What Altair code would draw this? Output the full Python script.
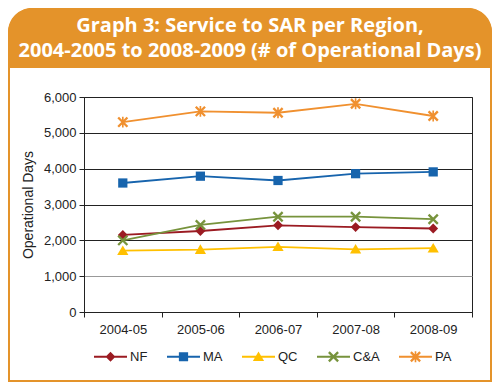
import altair as alt
import pandas as pd

years = ["2004-05", "2005-06", "2006-07", "2007-08", "2008-09"]
series = ["NF", "MA", "QC", "C&A", "PA"]
nf = [2150, 2260, 2420, 2370, 2330]
ma = [3600, 3790, 3670, 3860, 3910]
qc = [1710, 1740, 1820, 1750, 1780]
ca = [2000, 2430, 2660, 2660, 2590]
pa = [5300, 5600, 5560, 5810, 5470]
colors = ["#9b1b22", "#1764ad", "#ffc000", "#77933c", "#f0902f"]
title_lines = ["Graph 3: Service to SAR per Region,",
               "2004-2005 to 2008-2009 (# of Operational Days)"]
y_ticks = [0, 1000, 2000, 3000, 4000, 5000, 6000]

X_PATH = ("M-0.23,-0.33L0.33,0.23L0.23,0.33L-0.33,-0.23Z "
          "M-0.33,0.23L0.23,-0.33L0.33,-0.23L-0.23,0.33Z")
marker_paths = [
    "M0,-0.3L0.3,0L0,0.3L-0.3,0Z",
    "M-0.28,-0.28H0.28V0.28H-0.28Z",
    "M0,-0.32L0.34,0.26H-0.34Z",
    X_PATH,
    X_PATH + " M-0.05,-0.33H0.05V0.33H-0.05Z",
]
BAR = "M-1,-0.06H1V0.06H-1Z "
legend_paths = [BAR + p for p in marker_paths]

rows = []
for name, vals in zip(series, [nf, ma, qc, ca, pa]):
    for yr, v in zip(years, vals):
        rows.append({"year": yr, "series": name, "value": v})
df = pd.DataFrame(rows)

FONT = "Liberation Sans"
ORANGE = "#e4932a"

x_enc = alt.X("year:N", sort=years, bandPosition=0.5,
              scale=alt.Scale(type="band", paddingInner=0, paddingOuter=0),
              axis=alt.Axis(title=None, labelAngle=0, tickBand="extent", tickSize=5,
                            tickColor="#222", domainColor="#222", labelFont=FONT,
                            labelFontSize=13, labelColor="#222", labelPadding=6, grid=False))
y_enc = alt.Y("value:Q", scale=alt.Scale(domain=[0, 6000]),
              axis=alt.Axis(values=y_ticks, format=",.0f", title="Operational Days",
                            titleFont=FONT, titleFontSize=14, titleFontWeight="normal",
                            titleColor="#222", titlePadding=8,
                            labelFont=FONT, labelFontSize=13, labelColor="#222",
                            tickSize=5, tickColor="#222", domainColor="#222", labelPadding=3,
                            gridColor={"condition": {"test": "datum.value === 1000", "value": "#999999"},
                                       "value": "#222222"}))

color_scale = alt.Scale(domain=series, range=colors)
leg = alt.Legend(orient="none", legendX=10, legendY=243, direction="horizontal", title=None,
                 symbolSize=1089, symbolOpacity=1, symbolStrokeWidth=0,
                 symbolStrokeColor="transparent", labelFont=FONT, labelFontSize=13,
                 labelColor="#222", columnPadding=19, labelOffset=3)


def color_enc():
    return alt.Color("series:N", scale=color_scale, sort=series, legend=leg)


lines = alt.Chart(df).mark_line(strokeWidth=1.8).encode(x=x_enc, y=y_enc, color=color_enc())

marker_layers = []
for name, path in zip(series, marker_paths):
    marker_layers.append(
        alt.Chart(df).transform_filter(alt.datum.series == name)
        .mark_point(filled=True, size=1089, opacity=1, shape=path)
        .encode(x=x_enc, y=y_enc, color=color_enc())
    )

# legend-only layer: its marks sit outside the canvas, only its legend shows
legend_layer = alt.Chart(df).mark_point(filled=True, size=1089, opacity=1).encode(
    x=alt.value(-3000), y=alt.value(-3000),
    color=color_enc(),
    shape=alt.Shape("series:N", scale=alt.Scale(domain=series, range=legend_paths),
                    sort=series, legend=leg),
)

one = pd.DataFrame({"k": [0]})
panel = alt.Chart(one).mark_rect(fill="white", fillOpacity=0, stroke=ORANGE, strokeWidth=2,
                                 cornerRadiusTopLeft=24, cornerRadiusTopRight=24).encode(
    x=alt.value(-75), x2=alt.value(407), y=alt.value(-88), y2=alt.value(284))
header = alt.Chart(one).mark_rect(fill=ORANGE, cornerRadiusTopLeft=24, cornerRadiusTopRight=24).encode(
    x=alt.value(-76), x2=alt.value(408), y=alt.value(-89), y2=alt.value(-29))
title1 = alt.Chart(one).mark_text(font="Open Sans", fontSize=20, fontWeight="bold", color="white",
                                  align="center", baseline="middle").encode(
    x=alt.value(166), y=alt.value(-71), text=alt.value(title_lines[0]))
title2 = alt.Chart(one).mark_text(font="Open Sans", fontSize=20, fontWeight="bold", color="white",
                                  align="center", baseline="middle").encode(
    x=alt.value(166), y=alt.value(-46), text=alt.value(title_lines[1]))

chart = alt.layer(panel, header, title1, title2, lines, *marker_layers, legend_layer).properties(
    width=388, height=215,
    autosize=alt.AutoSizeParams(type="none"),
    padding={"left": 76, "top": 89, "right": 20, "bottom": 70},
).configure_view(stroke="#222")

chart.save("out.html", embed_options={"renderer": "svg", "actions": False})
